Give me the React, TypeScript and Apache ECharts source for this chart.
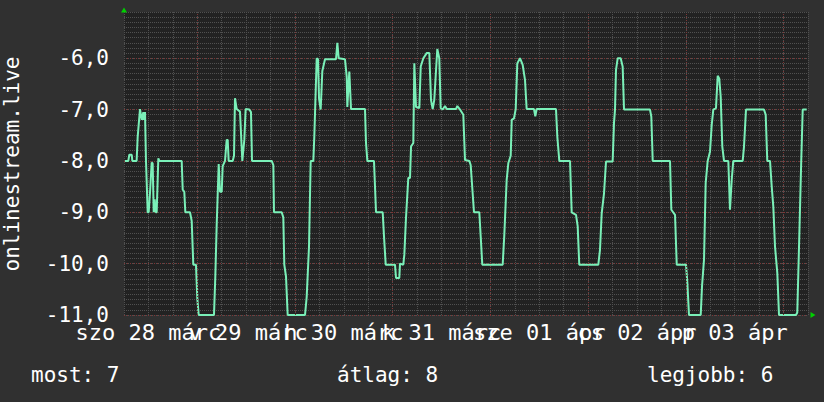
import React, { useEffect, useRef } from 'react';
import * as echarts from 'echarts';

// hours relative to 28 márc 00:00
const hours = [
  -17.75, -16.94, -16.7, -16.1, -15.96, -14.9, -14.64, -14.07, -13.65, -13.25, -13.17, -12.84, -12.6, -12.18,
  -11.93, -11.61, -11.2, -10.96, -10.7, -10.46, -10.2, -9.97, -9.57, -9.33, -3.83, -3.58, -3.19, -2.94, -1.79,
  -1.37, -0.98, -0.32, 0.0, 0.35, 4.1, 4.43, 4.77, 5.01, 5.26, 5.58, 6.0, 6.24, 6.81, 7.22, 7.47, 7.71, 8.7, 9.02,
  9.26, 9.68, 10.49, 11.06, 11.55, 11.88, 12.78, 13.19, 13.44, 18.28, 18.68, 18.84, 20.73, 21.13, 21.37, 21.79,
  22.2, 26.46, 26.87, 27.44, 27.85, 28.5, 28.74, 29.33, 29.65, 29.9, 30.31, 30.71, 31.37, 34.07, 34.4, 34.73,
  36.28, 36.7, 36.85, 37.34, 37.51, 37.76, 41.19, 41.44, 41.77, 43.4, 43.9, 45.54, 45.86, 46.28, 48.56, 48.81,
  49.62, 49.79, 50.6, 50.85, 51.26, 51.83, 52.25, 52.5, 53.06, 53.31, 53.72, 54.54, 54.88, 55.52, 56.35, 56.99,
  57.4, 57.82, 58.21, 58.95, 59.44, 59.78, 60.28, 60.84, 61.26, 63.54, 63.87, 64.53, 65.34, 65.75, 66.81, 67.15,
  67.96, 69.27, 69.61, 70.0, 75.01, 75.41, 75.99, 76.4, 76.98, 77.23, 77.79, 78.21, 78.6, 79.26, 79.92, 80.49,
  80.9, 82.7, 83.02, 83.36, 88.1, 88.43, 88.92, 91.55, 91.96, 93.02, 93.43, 93.82, 98.5, 98.91, 99.33, 99.9,
  100.39, 102.02, 102.35, 102.6, 102.84, 103.26, 103.99, 104.48, 104.81, 111.19, 111.52, 111.86, 116.11, 116.43,
  117.34, 117.76, 120.04, 120.37, 120.77, 123.65, 123.97, 124.46, 124.87, 125.36, 125.93, 126.35, 126.74, 127.4,
  127.82, 128.21, 128.56, 128.95, 129.37, 130.43, 130.84, 131.26, 131.65, 133.96, 134.28, 134.77, 139.19, 139.61,
  140.0, 140.67, 141.09, 141.48, 141.9, 142.46, 142.88, 147.05, 147.37, 147.87, 148.28, 148.7, 149.68,
];
const values = [
  -8.0, -8.0, -7.88, -7.88, -8.0, -8.0, -7.53, -6.99, -7.2, -7.05, -7.2, -7.05, -8.0, -9.0,
  -9.0, -8.62, -8.03, -8.05, -9.0, -8.75, -9.0, -9.0, -7.95, -8.0, -8.0, -8.56, -8.6, -9.0, -9.0,
  -9.17, -10.02, -10.02, -10.67, -11, -11, -10.25, -9.24, -8.66, -8.06, -8.6, -8.6, -8.1, -8.0, -7.59, -7.59, -8.0, -8.0, -7.9,
  -6.78, -6.99, -7.04, -8.0, -7.59, -6.99, -7.0, -7.05, -8.0, -8.0, -8.08, -9.0, -9.0, -9.1, -10.02, -10.25,
  -11, -11, -10.65, -9.67, -8.0, -8.0, -7.53, -6.0, -6.02, -6.78, -7.0, -6.25, -6.02, -6.02, -5.7, -6.0,
  -6.02, -6.36, -6.95, -6.26, -6.26, -6.99, -6.99, -7.65, -8.0, -8.0, -9.0, -9.0, -9.47, -10.02, -10.02, -10.28,
  -10.28, -10.0, -10.02, -9.83, -9.11, -8.33, -8.33, -7.72, -7.65, -6.1, -6.95, -6.97, -6.16, -6.0, -5.9, -5.9,
  -6.81, -6.99, -6.81, -5.82, -6.0, -6.97, -7.0, -6.93, -6.99, -6.99, -6.93, -7.0, -7.1, -7.98, -8.0, -8.08,
  -9.0, -9.0, -9.47, -10.02, -10.02, -9.44, -8.37, -8.04, -7.9, -7.2, -7.17, -6.99, -6.1, -6.0, -6.13, -6.42,
  -6.99, -6.99, -7.13, -6.99, -6.99, -7.53, -8.0, -8.0, -9.0, -9.05, -9.27, -10.02, -10.02, -9.73, -9.02, -8.63,
  -8.01, -8.01, -7.26, -7.0, -6.23, -6.0, -6.0, -6.16, -7.0, -7.0, -7.14, -8.0, -8.0, -8.95,
  -9.05, -10.02, -10.02, -10.38, -11, -11, -10.44, -9.92, -8.43, -8.0, -7.82, -7.3, -7.0, -6.97,
  -6.34, -6.4, -6.75, -7.72, -8.0, -8.0, -8.95, -8.37, -8.0, -8.0, -7.72, -7.0, -7.0, -7.1,
  -8.0, -8.0, -8.5, -8.89, -9.67, -10.18, -11, -11, -10.95, -9.44, -8.17, -7.0, -7.0,
];

const dayBoundaries = [0, 24, 48, 72, 96, 120, 144];
const labelHoursA = [-12, 36, 84, 132];
const labelTextsA = ['szo 28 márc', 'h 30 márc', 'sze 01 ápr', 'p 03 ápr'];
const labelHoursB = [12.5, 60, 108];
const labelTextsB = ['v 29 márc', 'k 31 márc', 'cs 02 ápr'];
const yTitle = 'onlinestream.live';
const legendTexts = ['most: 7', 'átlag: 8', 'legjobb: 6'];
const legendLefts = [31, 337, 647];

const X_MIN = -18;
const X_MAX = 150;
const Y_MIN = -11;
const Y_MAX = -5.1;

const BG = '#303030';
const PLOT_BG = '#222222';
const MINOR = '#505050';
const MAJOR = '#7e3434';
const LINE = '#7af0b8';
const ARROW = '#00d000';
const FONT = 'DejaVu Sans Mono';

export default function App() {
  const ref = useRef<HTMLDivElement>(null);
  useEffect(() => {
    document.body.style.margin = '0';
    document.body.style.background = BG;
    const chart = echarts.init(ref.current as HTMLDivElement, null, { renderer: 'svg' });
    const lineData = hours.map((h, i) => [h, values[i]]);
    const fmtA = (v: number) => {
      const i = labelHoursA.indexOf(v);
      return i >= 0 ? labelTextsA[i] : '';
    };
    const fmtB = (v: number) => {
      const i = labelHoursB.indexOf(v);
      return i >= 0 ? labelTextsB[i] : '';
    };
    const labelStyle = { color: '#ffffff', fontSize: 21, fontFamily: FONT };
    const xLabelStyle = { color: '#ffffff', fontSize: 22, fontFamily: FONT };
    chart.setOption({
      animation: false,
      backgroundColor: BG,
      textStyle: { fontFamily: FONT },
      grid: {
        left: 124,
        top: 12,
        width: 684,
        height: 303,
        show: true,
        backgroundColor: PLOT_BG,
        borderWidth: 0,
      },
      xAxis: [
        {
          type: 'value',
          min: X_MIN,
          max: X_MAX,
          interval: 6,
          position: 'bottom',
          axisLine: {
            show: true,
            onZero: false,
            lineStyle: { color: ARROW, width: 0 },
            symbol: ['none', 'triangle'],
            symbolSize: [6, 5],
            symbolOffset: [0, 5],
          },
          axisTick: { show: false },
          splitLine: { show: true, lineStyle: { color: MINOR, type: [1, 1], width: 1 } },
          axisLabel: { customValues: labelHoursA, formatter: fmtA, margin: 6, ...xLabelStyle },
        },
        {
          type: 'value',
          min: X_MIN,
          max: X_MAX,
          interval: 6,
          position: 'bottom',
          axisLine: { show: false, onZero: false },
          axisTick: { show: false },
          splitLine: { show: false },
          axisLabel: { customValues: labelHoursB, formatter: fmtB, margin: 6, ...xLabelStyle },
        },
      ],
      yAxis: [
        {
          type: 'value',
          min: Y_MIN,
          max: Y_MAX,
          interval: 0.1,
          position: 'left',
          axisLine: {
            show: true,
            onZero: false,
            lineStyle: { color: ARROW, width: 0 },
            symbol: ['none', 'triangle'],
            symbolSize: [6, 5],
            symbolOffset: [0, 2],
          },
          axisTick: { show: false },
          axisLabel: { show: false },
          splitLine: { show: true, lineStyle: { color: MINOR, type: [1, 1], width: 1 } },
        },
        {
          type: 'value',
          min: Y_MIN,
          max: Y_MAX,
          interval: 1,
          position: 'left',
          axisLine: { show: false, onZero: false },
          axisTick: { show: false },
          axisLabel: {
            formatter: (v: number) => v.toFixed(1).replace('.', ','),
            showMaxLabel: false,
            margin: 15,
            ...labelStyle,
          },
          splitLine: {
            show: true,
            showMaxLine: false,
            lineStyle: { color: MAJOR, type: [1, 2], width: 1 },
          },
        },
      ],
      title: legendTexts.map((t, i) => ({
        text: t,
        left: legendLefts[i],
        top: 364,
        padding: 0,
        textStyle: { color: '#ffffff', fontSize: 21, fontWeight: 'normal', fontFamily: FONT },
      })),
      graphic: [
        {
          type: 'text',
          x: 12,
          y: 164,
          rotation: Math.PI / 2,
          style: {
            text: yTitle,
            fill: '#ffffff',
            font: `21px "${FONT}"`,
            align: 'center',
            verticalAlign: 'middle',
          },
        },
      ],
      series: [
        {
          type: 'line',
          data: [],
          xAxisIndex: 0,
          yAxisIndex: 1,
          z: 1,
          silent: true,
          markLine: {
            silent: true,
            symbol: ['none', 'none'],
            label: { show: false },
            lineStyle: { color: MAJOR, type: [1, 2], width: 1 },
            data: dayBoundaries.map((d) => ({ xAxis: d })),
          },
        },
        {
          type: 'line',
          data: lineData,
          xAxisIndex: 0,
          yAxisIndex: 1,
          showSymbol: false,
          symbol: 'none',
          clip: false,
          z: 3,
          lineStyle: { color: LINE, width: 2 },
        },
      ],
    });
    return () => chart.dispose();
  }, []);
  return <div ref={ref} style={{ position: 'fixed', left: 0, top: 0, width: 824, height: 402 }} />;
}
